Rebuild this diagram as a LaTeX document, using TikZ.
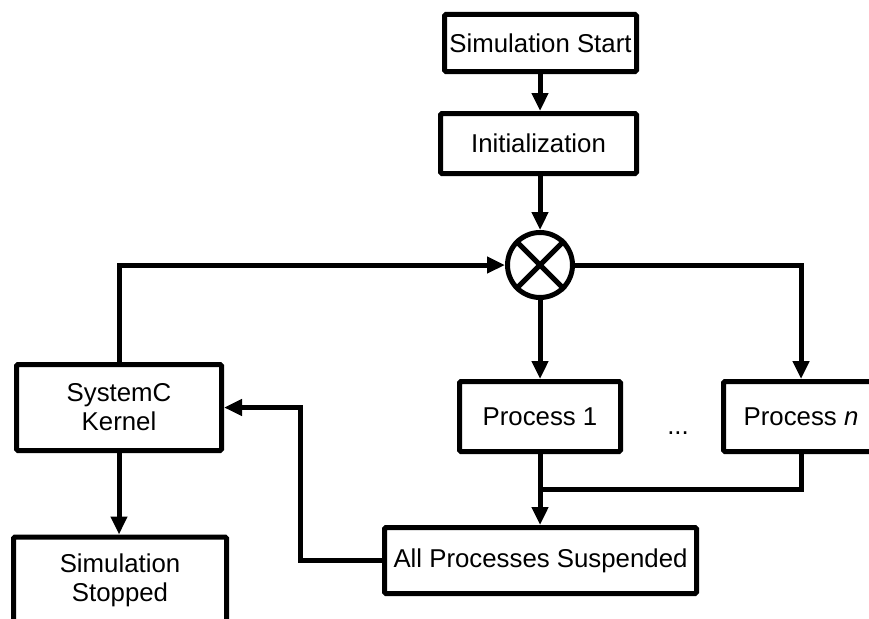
\documentclass[tikz,border=0pt]{standalone}
\usepackage{fontspec}
\setmainfont{Liberation Sans}
\usetikzlibrary{arrows.meta}
\begin{document}
\begin{tikzpicture}[x=1pt,y=-1pt,
  box/.style={draw,line width=5pt,rounded corners=1.5pt,align=center,inner sep=0pt,
    font=\fontsize{25.8}{29}\selectfont},
  conn/.style={line width=5pt},
  arr/.style={conn,-{Triangle[length=18pt,width=16pt]}},
  lbl/.style={font=\fontsize{25.8}{29}\selectfont,inner sep=0pt}]
\useasboundingbox (0,0) rectangle (869,618);
\clip (0,0) rectangle (869,618);
\node[box,minimum width=192pt,minimum height=57pt] (start) at (540.5,43) {Simulation Start};
\node[box,minimum width=196pt,minimum height=60pt] (init) at (538.5,143.5) {Initialization};
\node[draw,circle,line width=5pt,minimum size=65pt,inner sep=0pt] (circ) at (540,265) {};
\draw[conn] (circ.north west) -- (circ.south east) (circ.north east) -- (circ.south west);
\node[box,minimum width=205pt,minimum height=86pt] (kernel) at (119,407.5) {SystemC\\Kernel};
\node[box,minimum width=213pt,minimum height=86pt] (stop) at (120,580) {Simulation\\Stopped};
\node[box,minimum width=161pt,minimum height=70pt] (p1) at (540,416.5) {Process 1};
\node[box,minimum width=155pt,minimum height=70pt] (pn) at (801,416.5) {Process \textit{n}};
\node[lbl] (dots) at (678,433) {...};
\node[box,minimum width=312pt,minimum height=66pt] (all) at (540.5,560.5) {All Processes Suspended};
\coordinate (j) at (540,489);
\coordinate (k) at (300,407.5);
\draw[arr] (circ.north |- start.south) -- (circ.north |- init.north);
\draw[arr] (circ.north |- init.south) -- (circ.north);
\draw[arr] (kernel.north) |- (circ.west);
\draw[arr] (circ.east) -| (pn.north);
\draw[arr] (circ.south) -- (p1.north);
\draw[arr] (p1.south) -- (p1.south |- all.north);
\draw[conn] (pn.south) |- (j);
\draw[arr] (all.west) -| (k) -- (kernel.east);
\draw[arr] (kernel.south) -- (kernel.south |- stop.north);
\end{tikzpicture}
\end{document}
